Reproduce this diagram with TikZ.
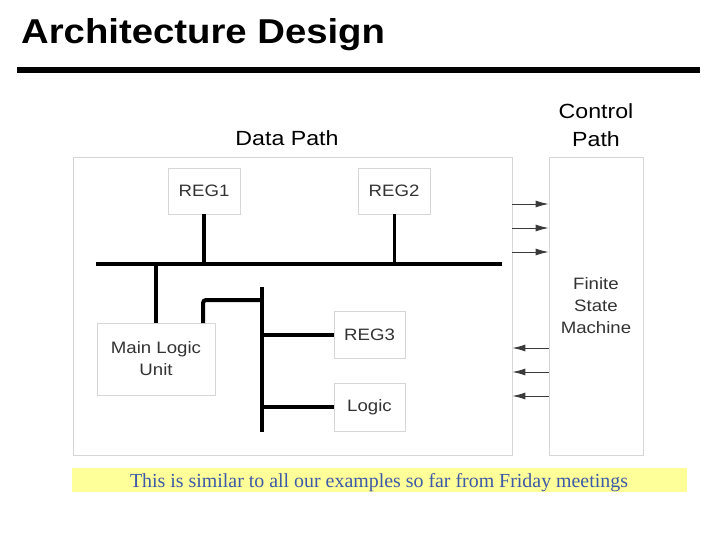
\documentclass[tikz,border=0pt]{standalone}
\usepackage{fontspec}
\usepackage{graphicx}
\setmainfont{Liberation Serif}
\setsansfont{Liberation Sans}
\usetikzlibrary{arrows.meta,positioning}

\definecolor{boxline}{HTML}{D6D6D6}
\definecolor{boxink}{HTML}{333333}
\definecolor{wireink}{HTML}{3A3A3A}
\definecolor{notebg}{HTML}{FFFF99}
\definecolor{noteink}{HTML}{3D5AA6}

% the slide text is a little wider than the font
\newcommand{\wide}[1]{\scalebox{1.13}[1]{#1}}

\tikzset{
  unit/.style={draw=boxline,line width=0.8pt,text=boxink,inner sep=0pt,
    font=\sffamily\fontsize{16.5}{22}\selectfont,align=center},
  heading/.style={font=\sffamily\fontsize{20.5}{28}\selectfont,align=center,inner sep=0pt},
  bus/.style={line width=4pt},
  sig/.style={wireink,line width=0.9pt,-{Latex[length=13pt,width=7pt]}},
}

\begin{document}
\begin{tikzpicture}[x=1pt,y=-1pt]
\useasboundingbox (0,0) rectangle (720,540);
\node[anchor=base west,inner sep=0pt,font=\sffamily\bfseries\fontsize{34.5}{40}\selectfont] (title) at (21,44) {\scalebox{1.11}[1]{Architecture Design}};
\draw[line width=6pt] (17,70.5) -- (700,70.5);
\node[heading,anchor=base] (dplabel) at (287,146) {\wide{Data Path}};
\node[heading,anchor=base] (cplabel) at (596,147) {\wide{Control}\\\wide{Path}};
\node[unit,minimum width=439pt,minimum height=298pt] (dpbox) at (292.5,306) {};
\node[unit,minimum width=94pt,minimum height=298pt] (fsm) at (596,306) {\wide{Finite}\\\wide{State}\\\wide{Machine}};
\node[unit,minimum width=72pt,minimum height=46pt] (reg1) at (204,191) {\wide{REG1}};
\node[unit,minimum width=72pt,minimum height=46pt] (reg2) at (394,191) {\wide{REG2}};
\node[unit,minimum width=118pt,minimum height=72pt] (mlu) at (156,359) {\wide{Main Logic}\\\wide{Unit}};
\node[unit,minimum width=71pt,minimum height=47pt] (reg3) at (369.5,334.5) {\wide{REG3}};
\node[unit,minimum width=71pt,minimum height=48pt] (logic) at (369.5,407) {\wide{Logic}};
% buses
\coordinate (busL) at (96,264);
\coordinate (busR) at (502,264);
\coordinate (vtop) at (262,287);
\coordinate (vbot) at (262,432);
\coordinate (mluout) at (203,323);
\coordinate (vjoin) at (262,300);
\draw[bus] (busL) -- (busR);
\draw[bus] (reg1.south) -- (reg1.south |- busL);
\draw[line width=3pt] (reg2.south) -- (reg2.south |- busL);
\draw[bus] (mlu.north) -- (mlu.north |- busL);
\draw[bus,rounded corners=3pt] (mluout) |- (vjoin);
\draw[bus] (vtop) -- (vbot);
\draw[bus] (reg3.west) -- (reg3.west -| vtop);
\draw[bus] (logic.west) -- (logic.west -| vtop);
% control signals
\foreach \y in {204,228,252}
  \draw[sig] (dpbox.east |- 0,\y) -- (fsm.west |- 0,\y);
\foreach \y in {348,372,396}
  \draw[sig] (fsm.west |- 0,\y) -- (dpbox.east |- 0,\y);
\node[fill=notebg,minimum width=615pt,minimum height=24pt,inner sep=0pt] (note) at (379.5,480) {};
\node[anchor=base,inner sep=0pt,text=noteink,font=\rmfamily\fontsize{19.9}{22}\selectfont] (notetext) at (379,487) {This is similar to all our examples so far from Friday meetings};
\end{tikzpicture}
\end{document}
